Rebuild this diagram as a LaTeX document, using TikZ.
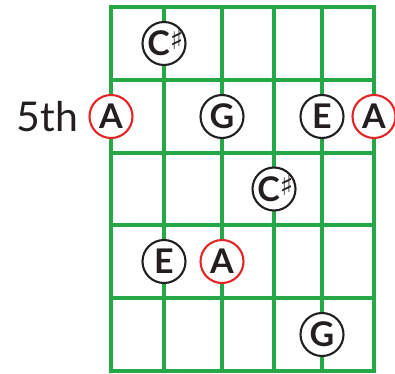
\documentclass[tikz,border=0pt]{standalone}
\usepackage{fontspec}
\setmainfont{Lato}
\newfontfamily\simbolos{DejaVu Sans}
\usepackage{tikz}
\usetikzlibrary{positioning}
\definecolor{verdetraste}{HTML}{27A847}
\definecolor{rojoraiz}{HTML}{E42526}
\definecolor{negronota}{HTML}{231F20}
\newcommand{\sost}{\smash{\raisebox{0.35ex}{\simbolos\fontsize{28}{28}\selectfont ♯\kern-3pt}}}

\begin{document}
\begin{tikzpicture}[
    x=1pt, y=-1pt,
    traste/.style={draw=verdetraste, line width=4.4pt},
    nota/.style={circle, draw=negronota, line width=2.1pt, fill=white,
      minimum size=43pt, inner sep=0pt, text=negronota,
      font=\fontsize{34}{34}\selectfont\bfseries},
    raiz/.style={nota, draw=rojoraiz}
  ]
    \useasboundingbox (0,0) rectangle (395,373);

    % diapason
    \draw[traste] (111,7) rectangle (374,371);
    \draw[traste] (164,7) -- (164,371);
    \draw[traste] (222,7) -- (222,371);
    \draw[traste] (274,7) -- (274,371);
    \draw[traste] (322,7) -- (322,371);
    \draw[traste] (111,80) -- (374,80);
    \draw[traste] (111,153) -- (374,153);
    \draw[traste] (111,225) -- (374,225);
    \draw[traste] (111,298) -- (374,298);

    % notas
    \node[nota] (dosost1) at (164,43.5) {C\sost};
    \node[raiz] (la1) at (111,116.5) {A};
    \node[nota] (sol1) at (222,116.5) {G};
    \node[nota] (mi1) at (322,116.5) {E};
    \node[raiz] (la2) at (374,116.5) {A};
    \node[nota] (dosost2) at (274,189) {C\sost};
    \node[nota] (mi2) at (164,261.5) {E};
    \node[raiz] (la3) at (222,261.5) {A};
    \node[nota] (sol2) at (322,334.5) {G};

    \node[left=10pt of la1, inner sep=0pt, text=negronota,
      font=\fontsize{41}{41}\selectfont] (quinto) {5th};
  \end{tikzpicture}
\end{document}
